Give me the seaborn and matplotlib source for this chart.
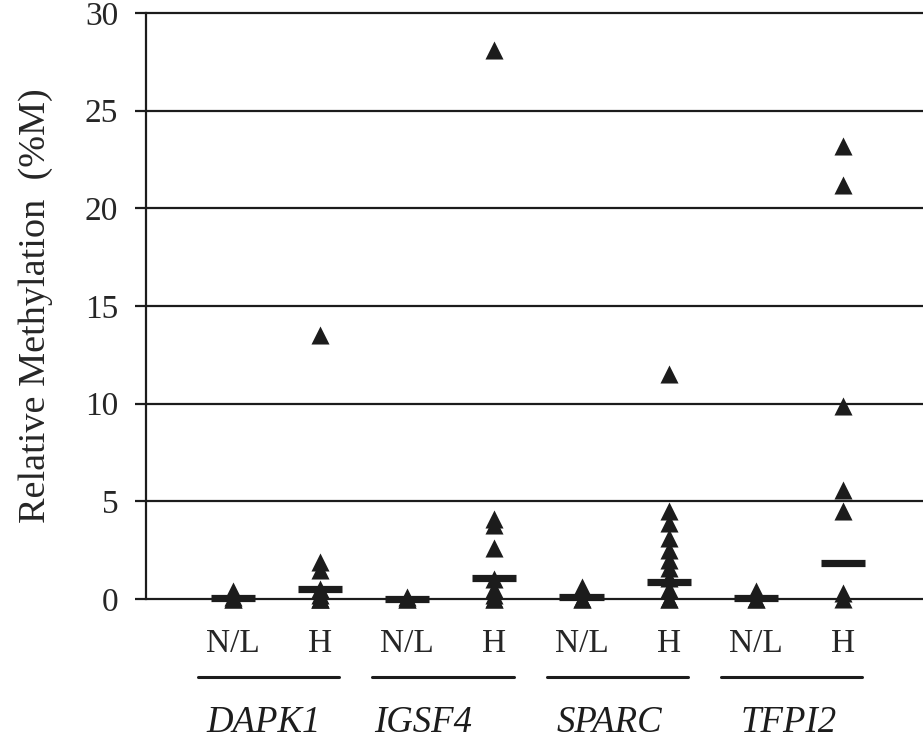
import matplotlib
matplotlib.use("Agg")
import matplotlib.pyplot as plt
import matplotlib.transforms as mtransforms
import seaborn as sns
import pandas as pd
import numpy as np

genes = ["DAPK1", "IGSF4", "SPARC", "TFPI2"]
groups = ["N/L", "H"]

dapk1_nl = [0, 0, 0.1, 0.4]
dapk1_h = [13.5, 1.9, 1.5, 0.5, 0.2, 0, 0, 0]
igsf4_nl = [0, 0, 0.1]
igsf4_h = [28.1, 4.1, 3.8, 2.6, 1.0, 0.5, 0.2, 0, 0]
sparc_nl = [0, 0, 0.6]
sparc_h = [11.5, 4.5, 3.9, 3.1, 2.5, 2.0, 1.6, 1.1, 0.5, 0, 0]
tfpi2_nl = [0, 0, 0.4]
tfpi2_h = [23.2, 21.2, 9.9, 5.6, 4.5, 0.3, 0]

# central bar values (as drawn)
bar_values = [0.03, 0.5, 0.02, 1.07, 0.1, 0.87, 0.05, 1.84]

yticks = [0, 5, 10, 15, 20, 25, 30]

series = [dapk1_nl, dapk1_h, igsf4_nl, igsf4_h, sparc_nl, sparc_h, tfpi2_nl, tfpi2_h]
cats = [f"{g} {s}" for g in genes for s in groups]
rows = []
for c, vals in zip(cats, series):
    for v in vals:
        rows.append({"cat": c, "value": v})
df = pd.DataFrame(rows)

sns.set_style("white")
plt.rcParams["font.family"] = ["Liberation Serif", "DejaVu Serif"]

ink = "#1c1c1c"
fig = plt.figure(figsize=(9.23, 7.47), dpi=100)
ax = fig.add_axes([146 / 923, 1 - 599 / 747, 1 - 146 / 923, (599 - 13) / 747])

sns.stripplot(data=df, x="cat", y="value", order=cats, jitter=False,
              marker="^", size=13, color=ink, linewidth=0, ax=ax,
              clip_on=False, zorder=4)
for coll in ax.collections:
    coll.set_clip_on(False)

xpos = np.arange(len(cats))
ax.hlines(bar_values, xpos - 0.253, xpos + 0.253, colors=ink, linewidth=5.2,
          zorder=5, clip_on=False)

ax.set_xlim(-1.0, 7.92)
ax.set_ylim(0, 30)
ax.set_yticks(yticks)
ax.set_yticklabels([str(t) for t in yticks], fontsize=24)
for t in yticks:
    ax.axhline(t, color=ink, linewidth=1.6, zorder=1, clip_on=False)

for s in ["top", "right", "bottom"]:
    ax.spines[s].set_visible(False)
ax.spines["left"].set_color(ink)
ax.spines["left"].set_linewidth(1.6)
ax.tick_params(axis="y", direction="out", length=8, width=1.6, color=ink,
               pad=12, left=True)

ax.set_xticks(xpos)
ax.set_xticklabels([s for g in genes for s in groups], fontsize=24)
ax.tick_params(axis="x", length=0, pad=21)
ax.set_xlabel("")
ax.set_ylabel("Relative Methylation  (%M)", fontsize=27.5, labelpad=23)

# horizontal offset of each gene name from the start of its underline
name_offsets = [0.09, 0.02, 0.11, 0.23]

trans = mtransforms.blended_transform_factory(ax.transData, fig.transFigure)
for i, g in enumerate(genes):
    cx = 2 * i + 0.5
    x0, x1 = cx - 0.9, cx + 0.72
    ax.plot([x0, x1], [1 - 677 / 747] * 2, transform=trans,
            color=ink, linewidth=2.2, clip_on=False)
    ax.text(x0 + name_offsets[i], 1 - 723 / 747, g, transform=trans,
            ha="left", va="center", fontsize=26.5, style="italic", color=ink)

fig.savefig("out.png", dpi=100)
